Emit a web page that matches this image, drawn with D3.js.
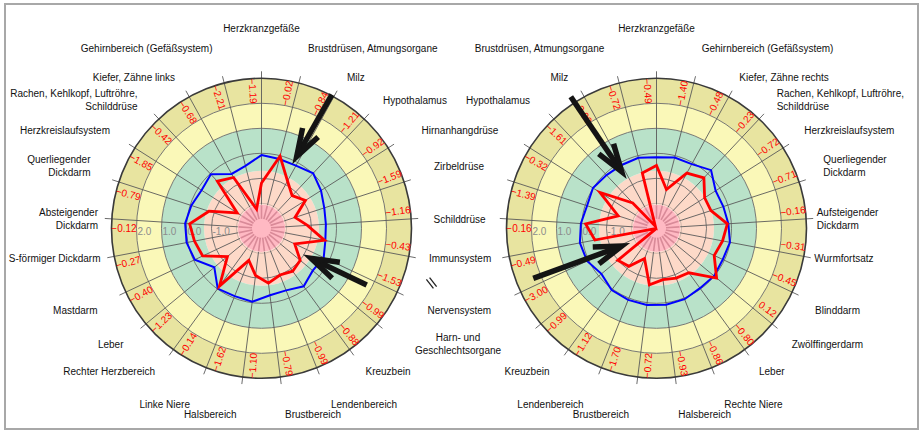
<!DOCTYPE html>
<html><head><meta charset="utf-8">
<script src="https://cdn.jsdelivr.net/npm/d3@7"></script>
<style>
body{margin:0;background:#fff}
svg{display:block}
text{font-family:"Liberation Sans",Arial,sans-serif}
</style>
</head><body>
<svg id="chart" width="922" height="431"></svg>
<script>
// ---- data: left body side -------------------------------------------
const leftCategories = ["Herzkranzgefäße", "Brustdrüsen, Atmungsorgane", "Milz", "Hypothalamus",
  "Hirnanhangdrüse", "Zirbeldrüse", "Schilddrüse", "Immunsystem", "Nervensystem",
  "Harn- und\nGeschlechtsorgane", "Kreuzbein", "Lendenbereich", "Brustbereich", "Halsbereich",
  "Linke Niere", "Rechter Herzbereich", "Leber", "Mastdarm", "S-förmiger Dickdarm",
  "Absteigender\nDickdarm", "Querliegender\nDickdarm", "Herzkreislaufsystem",
  "Rachen, Kehlkopf, Luftröhre,\nSchilddrüse", "Kiefer, Zähne links", "Gehirnbereich (Gefäßsystem)"];
const leftCurrent = [-1.19, -0.02, -0.84, -1.21, -0.92, -1.59, -1.16, -0.43, -1.53, -0.99, -0.88, -0.99,
  -0.79, -1.10, -1.62, -0.14, -1.23, -0.40, -0.27, -0.12, -0.79, -1.85, -0.42, -0.68, -2.21];
const leftReference = [-0.07, -0.14, -0.14, 0.02, -0.18, -0.36, -0.42, -0.40, -0.25, -0.34, -0.13, -0.33,
  -0.30, -0.04, -0.08, -0.02, -0.55, -0.05, 0.05, 0.06, -0.05, -0.16, -0.04, -0.52, -0.42];

// ---- data: right body side ------------------------------------------
const rightCategories = ["Herzkranzgefäße", "Gehirnbereich (Gefäßsystem)", "Kiefer, Zähne rechts",
  "Rachen, Kehlkopf, Luftröhre,\nSchilddrüse", "Herzkreislaufsystem", "Querliegender\nDickdarm",
  "Aufsteigender\nDickdarm", "Wurmfortsatz", "Blinddarm", "Zwölffingerdarm", "Leber", "Rechte Niere",
  "Halsbereich", "Brustbereich", "Lendenbereich", "Kreuzbein", "Harn- und\nGeschlechtsorgane",
  "Nervensystem", "Immunsystem", "Schilddrüse", "Zirbeldrüse", "Hirnanhangdrüse", "Hypothalamus",
  "Milz", "Brustdrüsen, Atmungsorgane"];
const rightCurrent = [-0.49, -1.40, -0.48, -0.23, -0.72, -0.71, -0.16, -0.31, -0.45, 0.12, -0.80, -0.86,
  -0.93, -0.72, -1.70, -1.12, -0.99, -3.00, -0.49, -0.16, -1.39, -0.32, -1.61, -2.90, -0.72];
const rightReference = [-0.16, -0.08, -0.07, 0.19, -0.20, -0.19, -0.12, -0.01, -0.07, -0.01, -0.04, 0.05,
  0.08, 0.09, 0.08, 0.05, -0.14, 0.07, 0.12, 0.03, -0.08, 0.01, -0.08, -0.11, -0.09];

// radial axis ticks printed along the left spoke
const ringTicks = [2.0, 1.0, 0.0, -1.0];

// ---- layout -----------------------------------------------------------
const W = 922, H = 431;
const R = 150;
const bands = [
  {from: -3.00, to: -2.05, fill: "#ffb9c3"},
  {from: -2.05, to: -0.70, fill: "#fdd9c8"},
  {from: -0.70, to: 1.00, fill: "#b9e2c9"},
  {from: 1.00, to: 2.00, fill: "#faf8b8"},
  {from: 2.00, to: 3.00, fill: "#e8e4a0"}
];
// label anchors relative to the chart centre: [dx, y, text-anchor]
const leftLabelLayout = [
  [0, 28, "middle"], [46.5, 48, "start"], [85.5, 77, "start"], [121.5, 100, "start"],
  [160, 130, "start"], [172.5, 166, "start"], [172, 219, "start"], [167.5, 258, "start"],
  [166, 310, "start"], [196.5, 344, "middle"], [104, 371, "start"], [69.5, 404, "start"],
  [23.5, 414, "start"], [-24.8, 414, "end"], [-71.5, 404, "end"], [-106.5, 371, "end"],
  [-138, 344, "end"], [-164, 310, "end"], [-161, 258, "end"], [-163.5, 219, "end"],
  [-171, 166, "end"], [-151.5, 130, "end"], [-124, 100, "end"], [-86.5, 77, "end"],
  [-49, 48, "end"]
];
const rightLabelLayout = [
  [0, 28, "middle"], [45.2, 48, "start"], [82.8, 77, "start"], [120.2, 100, "start"],
  [147.8, 130, "start"], [166.8, 166, "start"], [160.2, 219, "start"], [157.8, 258, "start"],
  [158.5, 310, "start"], [135.2, 344, "start"], [102.5, 371, "start"], [67.8, 404, "start"],
  [21.8, 414, "start"], [-27.5, 414, "end"], [-73, 404, "end"], [-107, 371, "end"],
  [-198.5, 344, "middle"], [-229.2, 310, "start"], [-227.5, 258, "start"], [-223.2, 219, "start"],
  [-222.5, 166, "start"], [-234.8, 130, "start"], [-126.5, 100, "end"], [-88.2, 77, "end"],
  [-52.2, 48, "end"]
];
// pointer arrows: tip and tail given in chart coordinates (degrees, value)
const leftArrows = [
  {tipDeg: 26.1, tipVal: 0.20, tailDeg: 27.8, tailVal: 3.04},
  {tipDeg: 121.2, tipVal: -0.68, tailDeg: 118.3, tailVal: 1.78}
];
const rightArrows = [
  {tipDeg: 328.4, tipVal: -0.34, tailDeg: 326.9, tailVal: 3.28},
  {tipDeg: 243.0, tipVal: -1.44, tailDeg: 247.9, tailVal: 2.32}
];

const svg = d3.select("#chart");
svg.append("rect").attr("x", 5).attr("y", 4).attr("width", 913).attr("height", 425)
  .attr("fill", "#fff").attr("stroke", "#a8a8a8").attr("stroke-width", 2);

const fmt = d3.format(".2f");

function drawChart(opts) {
  const {cx, cy, categories, current, reference, layout, arrows, clip, breakMark} = opts;
  const n = categories.length;
  const angle = d3.scaleLinear().domain([0, n]).range([0, 2 * Math.PI]);
  const radius = d3.scaleLinear().domain([-3, 3]).range([0, R]);
  const pt = (a, r) => [cx + r * Math.sin(a), cy - r * Math.cos(a)];

  const clipId = "clip" + opts.id;
  svg.append("clipPath").attr("id", clipId).append("rect")
    .attr("x", clip[0]).attr("y", 0).attr("width", clip[1] - clip[0]).attr("height", H);
  const g = svg.append("g").attr("clip-path", `url(#${clipId})`);
  const c = g.append("g").attr("transform", `translate(${cx},${cy})`);

  // coloured bands
  const arc = d3.arc().startAngle(0).endAngle(2 * Math.PI);
  c.selectAll("path.band").data(bands).join("path").attr("class", "band")
    .attr("d", d => arc({innerRadius: radius(d.from), outerRadius: radius(d.to)}))
    .attr("fill", d => d.fill);

  // inner disk spokes
  const ids = d3.range(n);
  c.selectAll("line.inner").data(ids).join("line").attr("class", "inner")
    .attr("x1", i => radius(-2.62) * Math.sin(angle(i))).attr("y1", i => -radius(-2.62) * Math.cos(angle(i)))
    .attr("x2", i => radius(-2.08) * Math.sin(angle(i))).attr("y2", i => -radius(-2.08) * Math.cos(angle(i)))
    .attr("stroke", "#d98a98").attr("stroke-width", 1.6);

  // grid rings
  c.selectAll("circle.ring").data([-2, -1, 0, 1, 2]).join("circle").attr("class", "ring")
    .attr("r", d => radius(d)).attr("fill", "none").attr("stroke", "#6a6a6a").attr("stroke-width", 0.9)
    .attr("stroke-opacity", d => d === -2 ? 0.35 : 1);

  // spokes, reaching slightly past the rim
  c.selectAll("line.spoke").data(ids).join("line").attr("class", "spoke")
    .attr("x1", i => radius(-2.05) * Math.sin(angle(i))).attr("y1", i => -radius(-2.05) * Math.cos(angle(i)))
    .attr("x2", i => (R + 7) * Math.sin(angle(i))).attr("y2", i => -(R + 7) * Math.cos(angle(i)))
    .attr("stroke", "#5a5a5a").attr("stroke-width", 0.9);

  c.append("circle").attr("r", R).attr("fill", "none").attr("stroke", "#3a3a3a").attr("stroke-width", 1.6);

  // radial tick labels
  c.selectAll("text.tick").data(ringTicks).join("text").attr("class", "tick")
    .attr("x", d => -radius(d) + 1).attr("y", 3).attr("dy", "0.35em")
    .attr("font-size", 10).attr("fill", "#8c8c8c").text(d => d.toFixed(1));

  // series
  const line = d3.lineRadial().angle((d, i) => angle(i)).radius(d => radius(d)).curve(d3.curveLinearClosed);
  c.append("path").datum(reference).attr("d", line).attr("fill", "none")
    .attr("stroke", "#0000ff").attr("stroke-width", 2).attr("stroke-linejoin", "miter");
  c.append("path").datum(current).attr("d", line).attr("fill", "none")
    .attr("stroke", "#ff0000").attr("stroke-width", 2.8).attr("stroke-linejoin", "miter");

  // value labels in the outer ring
  c.selectAll("text.val").data(current).join("text").attr("class", "val")
    .attr("transform", (d, i) => {
      const a = angle(i - 0.25);
      const [x, y] = [radius(2.5) * Math.sin(a), -radius(2.5) * Math.cos(a)];
      let deg = ((a * 180 / Math.PI) % 360 + 360) % 360;
      const rot = (deg > 0 && deg <= 180) ? deg - 90 : deg + 90;
      return `translate(${x},${y}) rotate(${rot})`;
    })
    .attr("text-anchor", "middle").attr("dominant-baseline", "central")
    .attr("font-size", 10).attr("fill", "#ff0000").text(d => fmt(d));

  // category labels
  const lab = g.selectAll("text.cat").data(categories).join("text").attr("class", "cat")
    .attr("font-size", 10).attr("fill", "#111")
    .attr("text-anchor", (d, i) => layout[i][2]);
  lab.each(function (d, i) {
    const lines = d.split("\n");
    const el = d3.select(this);
    const y0 = layout[i][1] - (lines.length - 1) * 6.2;
    lines.forEach((t, j) => {
      el.append("tspan").attr("x", cx + layout[i][0]).attr("y", y0 + j * 12.4).attr("dy", "0.35em").text(t);
    });
  });

  if (breakMark) {
    const [bx, by] = [cx + breakMark[0], cy + breakMark[1]];
    [-1.6, 1.6].forEach(o => {
      g.append("line").attr("x1", bx - 3.5 + o).attr("y1", by - 4.5 - o * 0.6)
        .attr("x2", bx + 3.5 + o).attr("y2", by + 4.5 - o * 0.6)
        .attr("stroke", "#222").attr("stroke-width", 1.3);
    });
  }

  // pointer arrows
  arrows.forEach(a => {
    const tip = pt(a.tipDeg * Math.PI / 180, radius(a.tipVal));
    const tail = pt(a.tailDeg * Math.PI / 180, radius(a.tailVal));
    const back = Math.atan2(tail[1] - tip[1], tail[0] - tip[0]);
    const L = 29, spread = 18 * Math.PI / 180;
    const arm = s => [tip[0] + L * Math.cos(back + s), tip[1] + L * Math.sin(back + s)];
    g.append("line").attr("x1", tail[0]).attr("y1", tail[1])
      .attr("x2", tip[0] + 6 * Math.cos(back)).attr("y2", tip[1] + 6 * Math.sin(back))
      .attr("stroke", "#141414").attr("stroke-width", 5.5);
    g.append("path").attr("d", d3.line()([arm(spread), tip, arm(-spread)]))
      .attr("fill", "none").attr("stroke", "#141414").attr("stroke-width", 5.5)
      .attr("stroke-linejoin", "miter").attr("stroke-miterlimit", 10);
  });
}

drawChart({id: "L", cx: 261.5, cy: 228.3, categories: leftCategories, current: leftCurrent,
  reference: leftReference, layout: leftLabelLayout, arrows: leftArrows, clip: [0, 461], breakMark: [170, 54.7]});
drawChart({id: "R", cx: 656.5, cy: 228.3, categories: rightCategories, current: rightCurrent,
  reference: rightReference, layout: rightLabelLayout, arrows: rightArrows, clip: [461, 922], breakMark: null});
</script>
</body></html>
